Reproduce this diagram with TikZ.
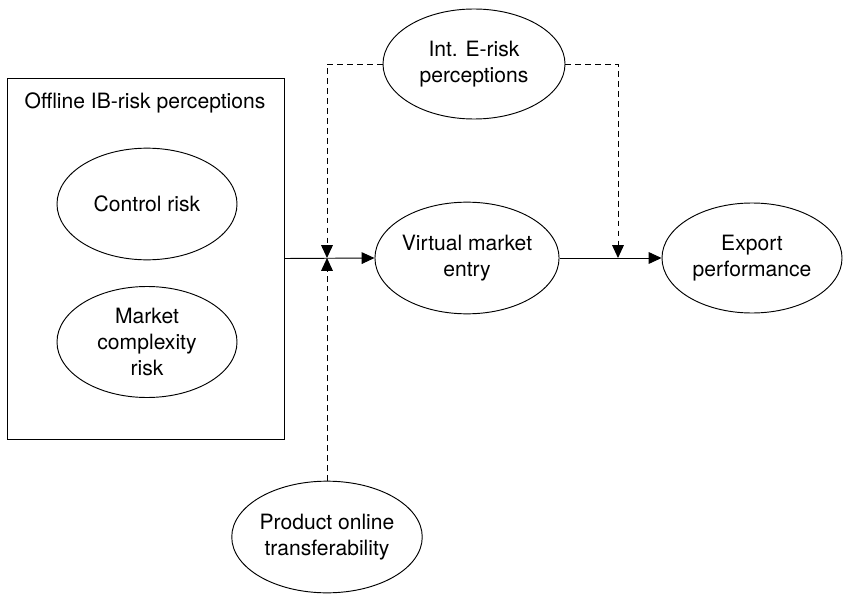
\documentclass[tikz,border=0pt]{standalone}
\usepackage{fontspec}
\setmainfont{TeX Gyre Heros}
\usetikzlibrary{arrows.meta, shapes.geometric}

\begin{document}
\begin{tikzpicture}[
    x=0.03cm, y=-0.03cm,
    every node/.style={font=\fontsize{18}{22}\selectfont, align=center},
    construct/.style={draw, ellipse, line width=0.8pt, inner sep=0pt, minimum width=5.4cm, minimum height=3.35cm},
    group/.style={draw, rectangle, line width=0.8pt, minimum width=8.31cm, minimum height=10.83cm},
    flow/.style={-{Triangle[length=11pt, width=10pt]}, line width=0.8pt},
    moder/.style={-{Triangle[length=11pt, width=10pt]}, line width=0.8pt, dash pattern=on 5pt off 3.5pt},
]
\useasboundingbox (0,0) rectangle (843,594);

% Offline risk block
\node[group] (offline) at (145.5,258.5) {};
\node (offtitle) at (145,103) {Offline IB-risk perceptions};
\node[construct] (ctrl) at (147,204) {Control risk};
\node[construct, minimum height=3.33cm] (mkt) at (147,342) {Market\\complexity\\risk};

% Main constructs
\node[construct, minimum width=5.0cm] (vme) at (467,258) {Virtual market\\entry};
\node[construct, minimum height=3.3cm] (exp) at (752,258) {Export\\performance};
\node[construct, minimum width=5.46cm, minimum height=3.3cm] (int) at (474,64) {Int. E-risk\\perceptions};
\node[construct, minimum width=5.28cm] (prod) at (327,537) {Product online\\transferability};

% Junctions on the main path
\coordinate (j1) at (327,258);
\coordinate (j2) at (618,258);

% Main path
\draw[flow] (offline.east) -- (vme.west);
\draw[flow] (vme.east) -- (exp.west);

% Moderating effects
\draw[moder] (int.west) -| (j1);
\draw[moder] (int.east) -| (j2);
\draw[moder] (prod.north) -- (j1);

\end{tikzpicture}
\end{document}
